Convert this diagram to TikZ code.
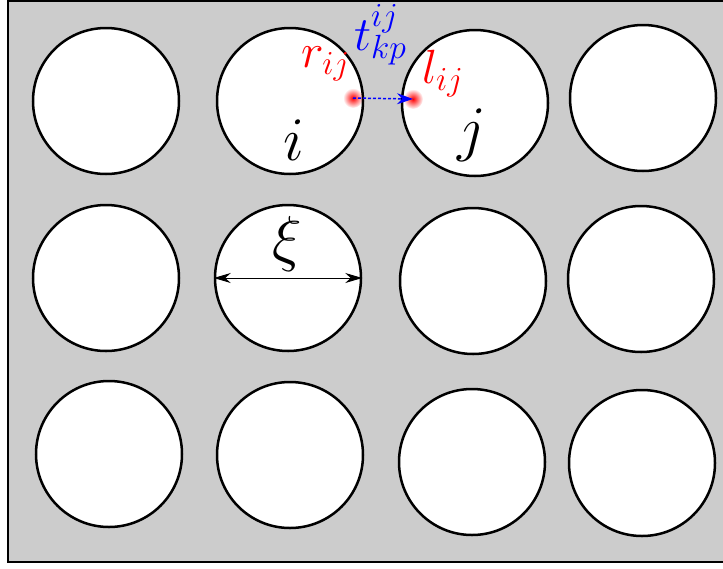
\documentclass[tikz,border=0pt]{standalone}
\usepackage{fix-cm}
\usetikzlibrary{arrows.meta,fadings}
\tikzfading[name=spotfade,inner color=transparent!0,outer color=transparent!100]
\begin{document}
\begin{tikzpicture}[x=1pt,y=-1pt,>=Stealth,
  hole/.style={circle,draw,line width=2.5pt,fill=white,minimum size=146pt,inner sep=0pt},
  big/.style={font=\fontsize{62}{66}\selectfont,inner sep=0pt,anchor=base},
  lab/.style={font=\fontsize{48}{52}\selectfont,inner sep=0pt,anchor=base west},
  spot/.style={circle,inner sep=0pt,minimum size=2pt}]
\clip (0,0) rectangle (723,568);
\draw[line width=2pt,fill=black!20] (8,1) rectangle (740,562);
% holes, row by row
\node[hole] (c11) at (106,101) {};\node[hole] (c12) at (290,101) {};
\node[hole] (c13) at (475,103) {};\node[hole] (c14) at (643,98) {};
\node[hole] (c21) at (106,278) {};\node[hole] (c22) at (288,278) {};
\node[hole] (c23) at (473,281) {};\node[hole] (c24) at (641,279) {};
\node[hole] (c31) at (109,454) {};\node[hole] (c32) at (290,455) {};
\node[hole] (c33) at (472,462) {};\node[hole] (c34) at (642,463) {};
\node[big] (ni) at (294,160) {$i$};
\node[big] (nj) at (472,149) {$j$};
\node[big] (xi) at (287,259) {$\xi$};
\draw[<->,line width=1pt,>={Stealth[length=17pt,width=10pt]}] (c22.west) -- (c22.east);
% hopping between neighbours
\node[spot] (r) at (353,98) {};\node[spot] (l) at (413,99) {};
\fill[red,path fading=spotfade] (r) circle (10);
\fill[red,path fading=spotfade] (l) circle (10);
\draw[blue,line width=1.5pt,dash pattern=on 3pt off 2pt,-{Stealth[length=16pt,width=11pt]}] (r.center) -- (l.center);
\node[lab,text=red] (rl) at (301,67) {$r_{ij}$};
\node[lab,text=red] (ll) at (422,83) {$l_{ij}$};
\node[lab,text=blue] (tl) at (354,50) {$t^{ij}_{kp}$};
\end{tikzpicture}
\end{document}
